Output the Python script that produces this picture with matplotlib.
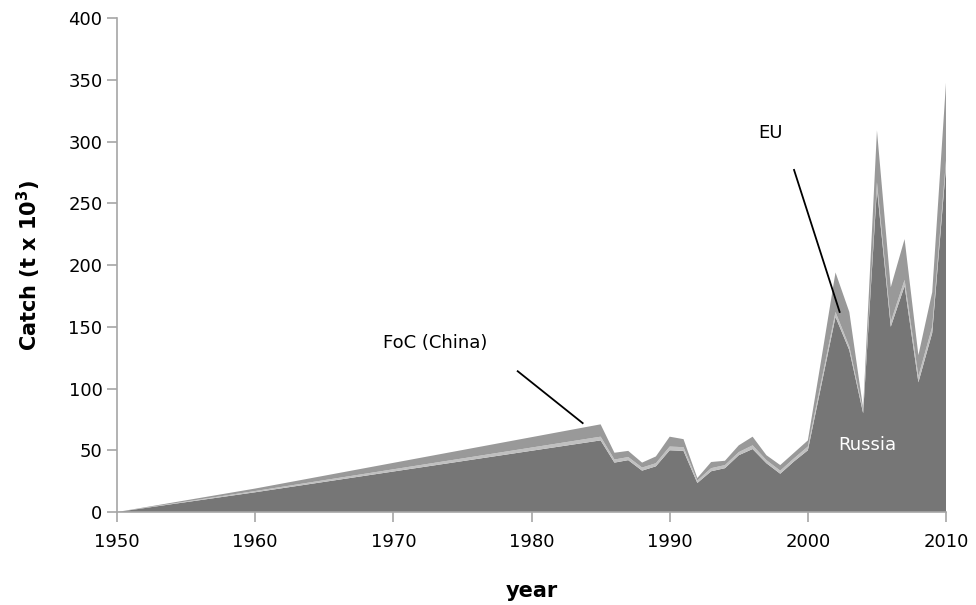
import matplotlib
matplotlib.use("Agg")
import matplotlib.pyplot as plt

years = [1950, 1960, 1985, 1986, 1987, 1988, 1989, 1990, 1991, 1992, 1993,
         1994, 1995, 1996, 1997, 1998, 1999, 2000, 2001, 2002, 2003, 2004,
         2005, 2006, 2007, 2008, 2009, 2010]
russia = [0, 16, 58, 40, 42, 33.5, 37, 50, 49.5, 23.5, 33,
          35.5, 46, 51, 39.5, 31, 41, 50, 104, 158, 131, 80,
          262, 150, 183, 105, 145, 280]
eu = [0, 1, 3, 2.5, 2.5, 2.5, 2.5, 3, 3, 2, 2.5,
      2.5, 2.5, 3, 2.5, 2.5, 2.5, 3, 3.5, 4, 3, 2,
      5, 4, 5, 5, 5, 5]
foc = [0, 2, 10, 5.5, 5, 4, 5.5, 8, 6.5, 2, 5,
       3.5, 5.5, 7, 4, 4.5, 4.5, 5, 18, 32, 28, 2,
       42, 28, 33, 17, 28, 63]

grey = "#a6a6a6"

fig = plt.figure(figsize=(9.76, 6.05), dpi=100)
ax = fig.add_axes([0.1199, 0.1537, 0.8494, 0.8165])

ax.stackplot(years, russia, eu, foc,
             colors=["#767676", "#c0c0c0", "#999999"], linewidth=0)

ax.set_xlim(1950, 2010)
ax.set_ylim(0, 400)
ax.set_xticks(range(1950, 2011, 10))
ax.set_yticks(range(0, 401, 50))

for side in ["top", "right"]:
    ax.spines[side].set_visible(False)
for side in ["left", "bottom"]:
    ax.spines[side].set_color(grey)
    ax.spines[side].set_linewidth(1.2)
ax.tick_params(axis="both", colors=grey, labelcolor="black", labelsize=13,
               length=7, width=1.2, direction="out")
ax.tick_params(axis="x", pad=8)

ax.set_xlabel("year", fontsize=15, fontweight="bold", labelpad=22)
ax.set_ylabel("Catch (t x 10$^\\mathbf{3}$)", fontsize=15, fontweight="bold", labelpad=18)

# annotations
ax.text(1973.0, 137, "FoC (China)", fontsize=13, ha="center", va="center")
ax.plot([1979.0, 1983.7], [114, 72], color="black", lw=1.3)
ax.text(1997.3, 307, "EU", fontsize=13, ha="center", va="center")
ax.plot([1999.0, 2002.3], [277, 162], color="black", lw=1.3)
ax.text(2004.3, 54, "Russia", fontsize=13, ha="center", va="center", color="white")

fig.savefig("out.png", dpi=100)
